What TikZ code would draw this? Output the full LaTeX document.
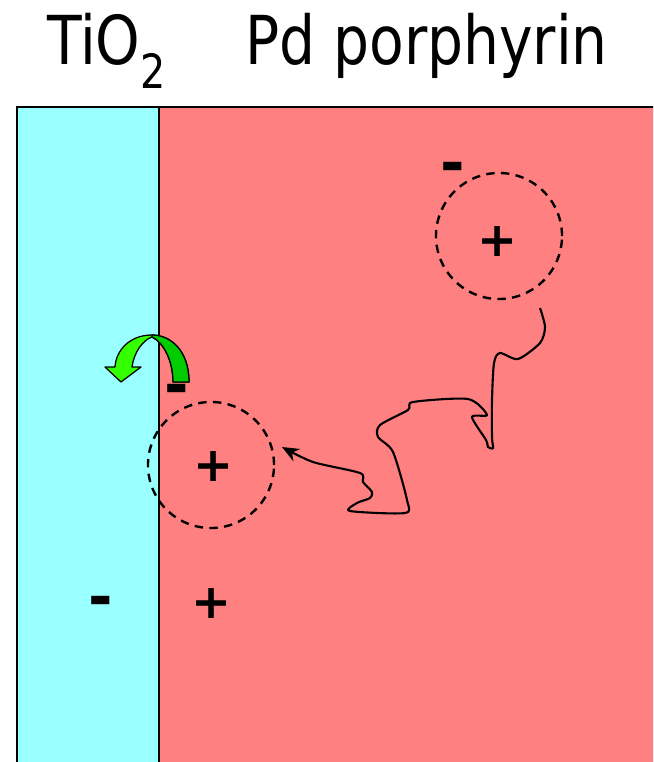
\documentclass[tikz,border=0pt]{standalone}
\usepackage{fontspec}
\setmainfont{DejaVu Sans}
\usetikzlibrary{arrows.meta}

\begin{document}
\begin{tikzpicture}[
  x=0.025cm, y=-0.025cm,
  layer/.style={draw,line width=1pt},
  hole/.style={circle,draw,dash pattern=on 6pt off 4.5pt,line width=1.7pt,minimum size=3.15cm,inner sep=0},
  charge/.style={font=\fontsize{34}{38}\selectfont\bfseries,inner sep=0},
  minus/.style={font=\fontsize{42}{46}\selectfont\bfseries,inner sep=0},
  title/.style={font=\fontsize{48}{56}\selectfont,inner sep=0,xscale=0.84,anchor=base west},
]
  \useasboundingbox (0,0) rectangle (653,762);
  \clip (0,0) rectangle (653,762);

  \node[title] (tio) at (47,65) {TiO\textsubscript{2}};
  \node[title] (pd) at (245,65) {Pd porphyrin};

  \fill[layer,fill={rgb,255:red,153;green,255;blue,255}] (17,107) rectangle (159,790);
  \fill[layer,fill={rgb,255:red,255;green,128;blue,128}] (159,107) rectangle (690,790);

  \node[hole] (h1) at (499,236) {};
  \node[hole] (h2) at (211,465) {};

  \foreach \x/\y [count=\i] in {498/242,214/467,212/604}
    \node[charge] (p\i) at (\x,\y) {+};
  \foreach \x/\y [count=\i] in {453/173,177/395,101/607}
    \node[minus] (m\i) at (\x,\y) {-};

  \coordinate (walkstart) at (540,308);
  \coordinate (walkend) at (282,447);
  \draw[line width=1.5pt,-{Stealth[length=12pt,width=10pt]}] plot[smooth,tension=0.45] coordinates {
    (walkstart) (545,327) (540,343) (518,359) (500,353) (494,363) (492,400)
    (492,437) (493,448) (488,447) (486,440) (472,417) (487,415) (468,399)
    (413,402) (408,410) (380,425) (378,437) (393,452) (407,500) (405,513)
    (350,511) (357,503) (370,498) (372,492) (363,482) (360,473) (313,462) (walkend)};

  \filldraw[fill={rgb,255:red,51;green,255;blue,0},line width=0.9pt,line join=round]
    (189,382) .. controls (189,350) and (170,335) .. (152,335)
    .. controls (130,335) and (116,350) .. (115,367) -- (105,367) -- (121,382)
    -- (141,367) -- (132,367) .. controls (134,352) and (143,340) .. (152,337)
    .. controls (163,342) and (173,360) .. (173,382) -- cycle;
  \filldraw[fill={rgb,255:red,0;green,204;blue,0},line width=0.9pt,line join=round]
    (189,382) .. controls (189,350) and (170,335) .. (152,335)
    -- (152,337) .. controls (163,342) and (173,360) .. (173,382) -- cycle;
\end{tikzpicture}
\end{document}
